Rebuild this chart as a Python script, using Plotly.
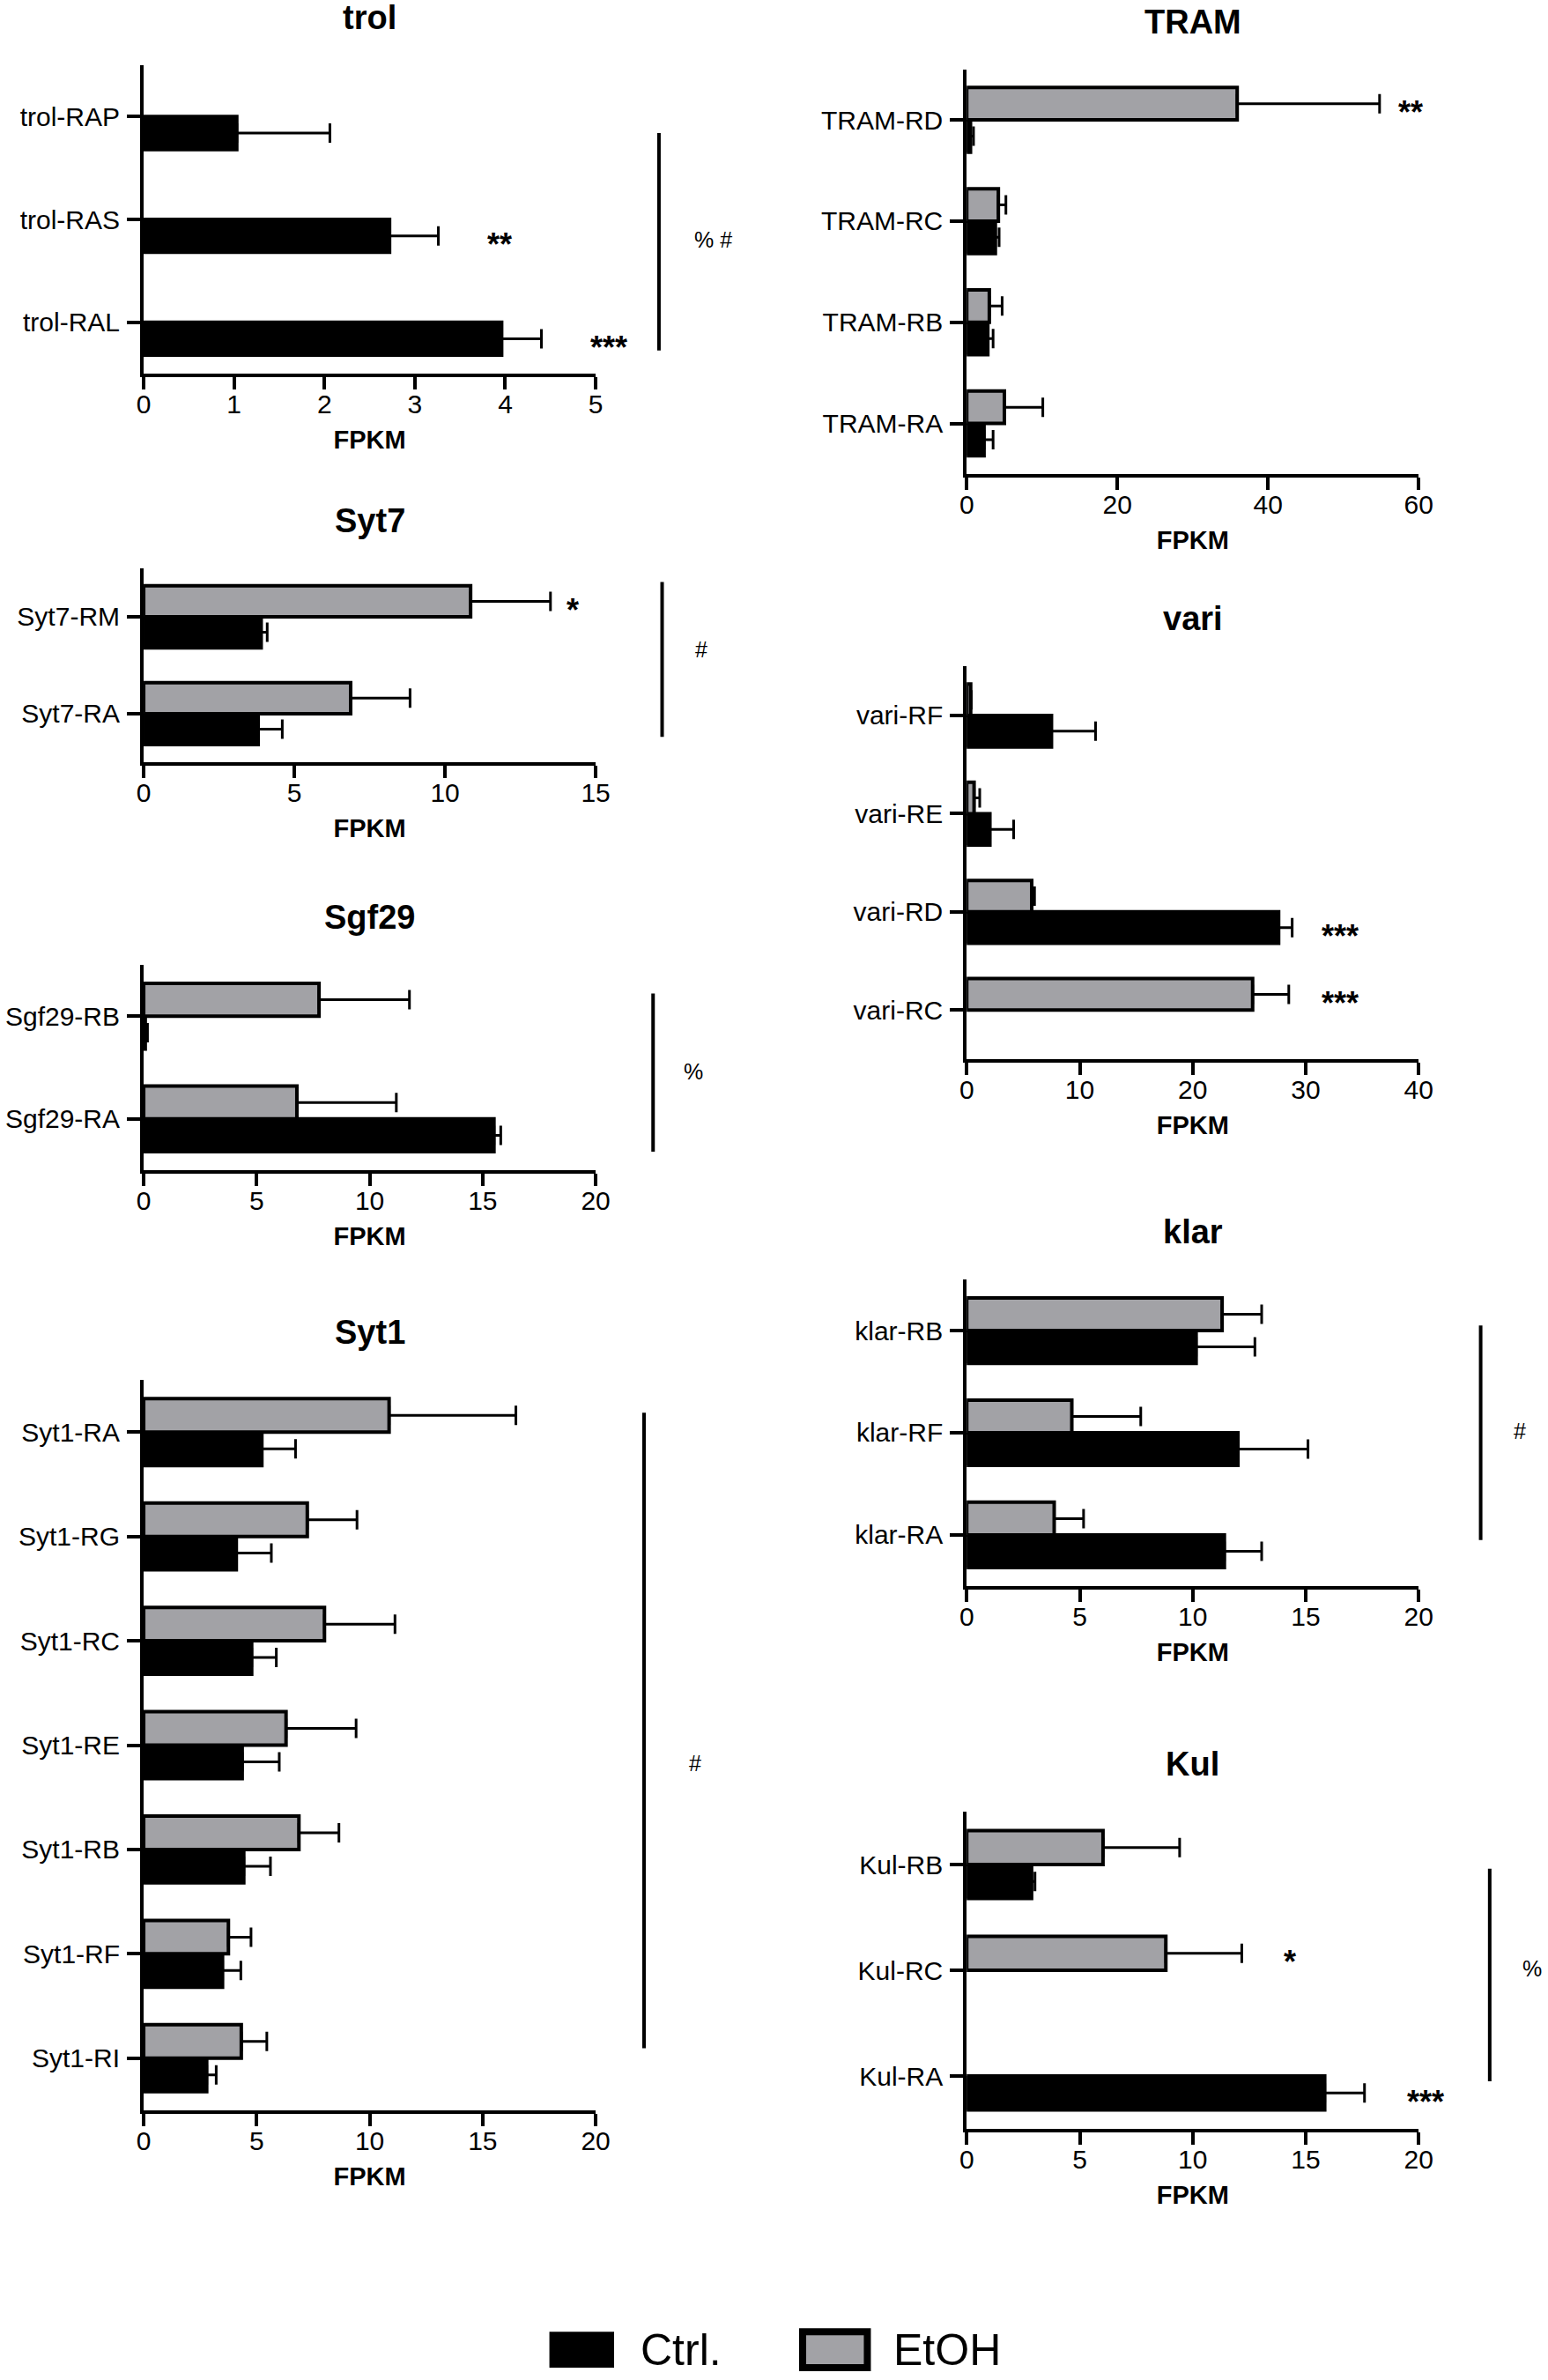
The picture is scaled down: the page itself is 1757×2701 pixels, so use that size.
import plotly.graph_objects as go

FONT = "Liberation Sans, Arial, Helvetica, sans-serif"
SERIES = ["Ctrl.", "EtOH"]
SERIES_COLORS = ["#000000", "#a2a2a6"]

# ---- data (FPKM mean, SEM); categories listed top -> bottom ----
trol_cats = ["trol-RAP", "trol-RAS", "trol-RAL"]
trol_ctrl = [1.03, 2.72, 3.96]
trol_ctrl_err = [1.03, 0.54, 0.44]
trol_etoh = [None, None, None]
trol_etoh_err = [None, None, None]

tram_cats = ["TRAM-RD", "TRAM-RC", "TRAM-RB", "TRAM-RA"]
tram_ctrl = [0.5, 3.8, 2.8, 2.3]
tram_ctrl_err = [0.4, 0.5, 0.7, 1.2]
tram_etoh = [35.9, 4.2, 3.0, 5.0]
tram_etoh_err = [18.9, 1.0, 1.7, 5.1]

syt7_cats = ["Syt7-RM", "Syt7-RA"]
syt7_ctrl = [3.9, 3.8]
syt7_ctrl_err = [0.2, 0.8]
syt7_etoh = [10.85, 6.87]
syt7_etoh_err = [2.65, 1.97]

vari_cats = ["vari-RF", "vari-RE", "vari-RD", "vari-RC"]
vari_ctrl = [7.5, 2.05, 27.6, None]
vari_ctrl_err = [3.9, 2.1, 1.2, None]
vari_etoh = [0.35, 0.65, 5.75, 25.3]
vari_etoh_err = [0.05, 0.5, 0.25, 3.2]

sgf29_cats = ["Sgf29-RB", "Sgf29-RA"]
sgf29_ctrl = [0.07, 15.5]
sgf29_ctrl_err = [0.1, 0.3]
sgf29_etoh = [7.76, 6.78]
sgf29_etoh_err = [4.0, 4.4]

klar_cats = ["klar-RB", "klar-RF", "klar-RA"]
klar_ctrl = [10.15, 12.0, 11.4]
klar_ctrl_err = [2.6, 3.1, 1.65]
klar_etoh = [11.3, 4.65, 3.87]
klar_etoh_err = [1.75, 3.05, 1.3]

syt1_cats = ["Syt1-RA", "Syt1-RG", "Syt1-RC", "Syt1-RE", "Syt1-RB", "Syt1-RF", "Syt1-RI"]
syt1_ctrl = [5.23, 4.10, 4.78, 4.36, 4.43, 3.49, 2.79]
syt1_ctrl_err = [1.49, 1.55, 1.09, 1.64, 1.18, 0.81, 0.42]
syt1_etoh = [10.86, 7.24, 8.0, 6.30, 6.87, 3.75, 4.32]
syt1_etoh_err = [5.61, 2.20, 3.12, 3.10, 1.77, 1.0, 1.13]

kul_cats = ["Kul-RB", "Kul-RC", "Kul-RA"]
kul_ctrl = [2.87, None, 15.84]
kul_ctrl_err = [0.15, None, 1.76]
kul_etoh = [6.03, 8.81, None]
kul_etoh_err = [3.39, 3.36, None]

# significance marks: (category, series, x position in FPKM, text)
trol_stars = [("trol-RAS", "Ctrl.", 3.94, "**"), ("trol-RAL", "Ctrl.", 5.15, "***")]
tram_stars = [("TRAM-RD", "EtOH", 58.9, "**")]
syt7_stars = [("Syt7-RM", "EtOH", 14.25, "*")]
vari_stars = [("vari-RD", "Ctrl.", 33.0, "***"), ("vari-RC", "EtOH", 33.0, "***")]
kul_stars = [("Kul-RC", "EtOH", 14.3, "*"), ("Kul-RA", "Ctrl.", 20.3, "***")]

LEFT = [0.0928, 0.3848]
RIGHT = [0.6245, 0.9165]

# name, cats, ctrl, ctrl_err, etoh, etoh_err, xmax, dtick, xdomain, ydomain,
# bracket (x, y0, y1, label x, label y in axis-domain units), bracket label, stars
panels = [
    ("trol", trol_cats, trol_ctrl, trol_ctrl_err, trol_etoh, trol_etoh_err,
     5, 1, LEFT, [0.8430, 0.9726], (1.14, 0.075, 0.78, 1.261, 0.435), "% #", trol_stars),
    ("TRAM", tram_cats, tram_ctrl, tram_ctrl_err, tram_etoh, tram_etoh_err,
     60, 20, RIGHT, [0.8008, 0.9709], None, None, tram_stars),
    ("Syt7", syt7_cats, syt7_ctrl, syt7_ctrl_err, syt7_etoh, syt7_etoh_err,
     15, 5, LEFT, [0.6798, 0.7612], (1.147, 0.13, 0.93, 1.234, 0.58), "#", syt7_stars),
    ("vari", vari_cats, vari_ctrl, vari_ctrl_err, vari_etoh, vari_etoh_err,
     40, 10, RIGHT, [0.5550, 0.7200], None, None, vari_stars),
    ("Sgf29", sgf29_cats, sgf29_ctrl, sgf29_ctrl_err, sgf29_etoh, sgf29_etoh_err,
     20, 5, LEFT, [0.5083, 0.5946], (1.127, 0.09, 0.86, 1.217, 0.48), "%", []),
    ("klar", klar_cats, klar_ctrl, klar_ctrl_err, klar_etoh, klar_etoh_err,
     20, 5, RIGHT, [0.3336, 0.4624], (1.137, 0.15, 0.85, 1.224, 0.505), "#", []),
    ("Syt1", syt1_cats, syt1_ctrl, syt1_ctrl_err, syt1_etoh, syt1_etoh_err,
     20, 5, LEFT, [0.1133, 0.4202], (1.107, 0.085, 0.955, 1.221, 0.475), "#", []),
    ("Kul", kul_cats, kul_ctrl, kul_ctrl_err, kul_etoh, kul_etoh_err,
     20, 5, RIGHT, [0.1055, 0.2388], (1.157, 0.15, 0.82, 1.251, 0.505), "%", kul_stars),
]

BARGAP = 0.36
SLOT = (1 - BARGAP) / 4  # centre offset of each bar inside its category

fig = go.Figure()
annotations = []
shapes = []

for k, (name, cats, ctrl, ctrl_err, etoh, etoh_err, xmax, dtick, xdom, ydom,
        bracket, blabel, stars) in enumerate(panels, start=1):
    sfx = "" if k == 1 else str(k)
    order = list(reversed(cats))  # category axis runs bottom -> top
    for label, vals, errs, col in zip(SERIES, (ctrl, etoh), (ctrl_err, etoh_err), SERIES_COLORS):
        fig.add_trace(go.Bar(
            y=cats, x=vals, orientation="h", name=label,
            xaxis="x" + sfx, yaxis="y" + sfx,
            legendgroup=label, showlegend=False,
            marker=dict(color=col, line=dict(color="black", width=4)),
            error_x=dict(type="data", array=errs, arrayminus=[0] * len(errs),
                         symmetric=False, color="black", thickness=3, width=11),
        ))

    fig.layout["xaxis" + sfx] = dict(
        domain=xdom, anchor="y" + sfx, range=[0, xmax], tick0=0, dtick=dtick,
        showline=True, linecolor="black", linewidth=4, ticks="outside",
        ticklen=14, tickwidth=4, tickcolor="black", showgrid=False,
        zeroline=False, tickfont=dict(size=30, color="black"), ticklabelstandoff=-9,
        title=dict(text="<b>FPKM</b>", font=dict(size=29, color="black"), standoff=16),
        automargin=False, fixedrange=True,
    )
    fig.layout["yaxis" + sfx] = dict(
        domain=ydom, anchor="x" + sfx, type="category",
        categoryorder="array", categoryarray=order, range=[-0.5, len(cats) - 0.5],
        showline=True, linecolor="black", linewidth=4, ticks="outside",
        ticklen=15, tickwidth=4, tickcolor="black", showgrid=False,
        tickfont=dict(size=30, color="black"), ticklabelstandoff=2,
        automargin=False, fixedrange=True,
    )

    annotations.append(dict(
        text="<b>%s</b>" % name, xref="x%s domain" % sfx, yref="y%s domain" % sfx,
        x=0.5, y=1, xanchor="center", yanchor="middle", yshift=54,
        showarrow=False, font=dict(size=38, color="black"),
    ))

    for cat, series, xpos, txt in stars:
        idx = order.index(cat)
        off = -SLOT if series == "Ctrl." else SLOT
        annotations.append(dict(
            text="<b>%s</b>" % txt, xref="x%s domain" % sfx, yref="y" + sfx,
            x=xpos / xmax, y=idx + off, xanchor="center", yanchor="middle",
            yshift=-10, showarrow=False, font=dict(size=36, color="black"),
        ))

    if bracket:
        bx, by0, by1, tx, ty = bracket
        shapes.append(dict(
            type="line", xref="x%s domain" % sfx, yref="y%s domain" % sfx,
            x0=bx, x1=bx, y0=by0, y1=by1, line=dict(color="black", width=4),
        ))
        annotations.append(dict(
            text=blabel, xref="x%s domain" % sfx, yref="y%s domain" % sfx,
            x=tx, y=ty, xanchor="center", yanchor="middle",
            showarrow=False, font=dict(size=25, color="black"),
        ))

# legend at the bottom: large swatches like the original figure
LEG_X0, LEG_STEP, LEG_BOX_W, LEG_TEXT_DX = 0.3549, 0.1636, 0.0418, 0.0575
LEG_Y0, LEG_Y1 = 0.0052, 0.0203
for i, (label, col) in enumerate(zip(SERIES, SERIES_COLORS)):
    x0 = LEG_X0 + i * LEG_STEP
    bordered = i == 1  # the EtOH swatch carries a thick black border
    shapes.append(dict(
        type="rect", xref="paper", yref="paper", x0=x0, x1=x0 + LEG_BOX_W,
        y0=LEG_Y0, y1=LEG_Y1, fillcolor=col,
        line=dict(color="black", width=8 if bordered else 0),
    ))
    annotations.append(dict(
        text=label, xref="paper", yref="paper", x=x0 + LEG_TEXT_DX, y=(LEG_Y0 + LEG_Y1) / 2,
        xanchor="left", yanchor="middle", showarrow=False,
        font=dict(size=50, color="black"),
    ))

fig.update_layout(
    width=1757, height=2701, autosize=False,
    margin=dict(l=0, r=0, t=0, b=0, autoexpand=False),
    paper_bgcolor="white", plot_bgcolor="white",
    font=dict(family=FONT, color="black"),
    barmode="group", bargap=BARGAP, bargroupgap=0,
    annotations=annotations, shapes=shapes, showlegend=False,
)

fig.write_html(
    "out.html",
    config={"responsive": False, "displayModeBar": False},
    post_script="document.body.style.margin='0';"
                "document.documentElement.style.overflow='hidden';",
)
